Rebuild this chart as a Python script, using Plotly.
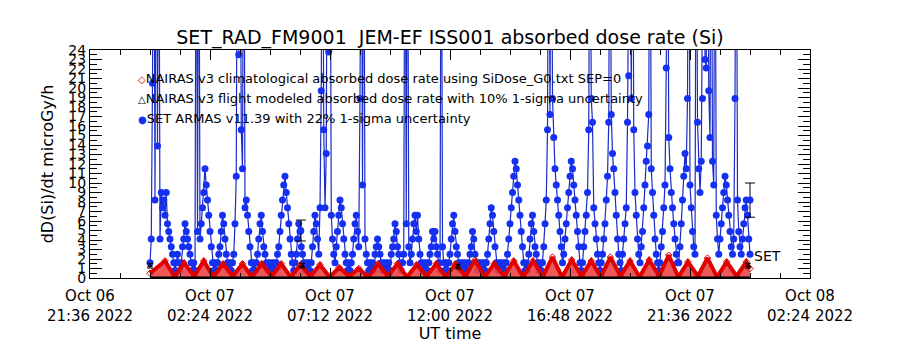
import numpy as np
import pandas as pd
import plotly.graph_objects as go

# ---------------- data ----------------
# SET ARMAS dose rate (microGy/h), regular cadence over Oct 07 00:00 -> Oct 08 00:00
set_dose = [
    1.6, 4.1, 20.5, 50.0,
    8.2, 50.0, 13.9, 50.0, 4.1, 9.0, 7.4, 8.2, 6.6, 9.0, 5.7, 4.9, 4.1, 3.3, 2.5, 1.6,
    0.8, 1.6, 2.5, 1.6, 0.8, 1.6, 3.3, 4.1, 5.7, 4.9, 4.1, 3.3, 2.5, 1.6, 0.8,
    1.6, 0.8, 50.0, 4.9, 50.0, 4.1, 5.7, 7.4, 9.0, 11.5, 9.8, 8.2, 6.6, 4.9, 3.3, 1.6,
    0.8, 1.6, 0.8, 1.6, 2.5, 3.3, 4.9, 6.6, 5.7, 4.1, 2.5, 1.6, 0.8, 1.6, 0.8,
    1.6, 2.5, 5.7, 10.7, 50.0, 23.5, 50.0, 15.6, 11.5, 50.0, 7.4, 8.2, 6.6, 4.9, 3.3, 1.6,
    0.8, 1.6, 0.8, 1.6, 2.5, 4.1, 5.7, 6.6, 4.9, 3.3, 2.5, 1.6, 0.8, 1.6, 0.8,
    1.6, 0.8, 1.6, 0.8, 1.6, 2.5, 3.3, 4.9, 6.6, 8.2, 9.8, 10.7, 9.0, 7.4, 5.7, 4.1,
    2.5, 1.6, 0.8, 1.6, 2.5, 4.1, 5.7, 4.9, 3.3, 2.5, 1.6, 0.8, 1.6, 0.8, 1.6,
    0.8, 1.6, 3.3, 4.9, 6.6, 5.7, 4.1, 2.5, 7.4, 19.7, 50.0, 15.6, 7.4, 13.1, 50.0, 23.8,
    50.0, 6.6, 4.1, 2.5, 1.6, 3.3, 4.9, 6.6, 8.2, 7.4, 5.7, 4.1, 2.5, 1.6, 0.8,
    1.6, 0.8, 1.6, 2.5, 4.1, 5.7, 6.6, 4.9, 3.3, 18.9, 50.0, 9.8, 50.0, 4.1, 2.5, 1.6,
    0.8, 1.6, 0.8, 1.6, 0.8, 2.5, 3.3, 4.1, 3.3, 2.5, 1.6, 0.8, 1.6, 0.8, 1.6,
    0.8, 1.6, 0.8, 2.5, 3.3, 4.1, 5.7, 4.9, 3.3, 2.5, 1.6, 0.8, 1.6, 2.5, 50.0, 5.7,
    50.0, 3.3, 1.6, 2.5, 4.1, 5.7, 6.6, 4.9, 6.6, 4.1, 2.5, 1.6, 0.8, 1.6, 0.8,
    1.6, 0.8, 1.6, 2.5, 3.3, 4.9, 4.1, 4.9, 3.3, 2.5, 1.6, 0.8, 50.0, 3.3, 1.6, 0.8,
    1.6, 0.8, 1.6, 2.5, 4.1, 5.7, 6.6, 4.9, 3.3, 2.5, 1.6, 0.8, 1.6, 0.8, 1.6,
    0.8, 1.6, 0.8, 1.6, 2.5, 3.3, 4.9, 4.1, 2.5, 1.6, 0.8, 1.6, 0.8, 1.6, 0.8, 1.6,
    0.8, 1.6, 2.5, 4.1, 5.7, 7.4, 6.6, 4.9, 3.3, 1.6, 0.8, 1.6, 0.8, 1.6, 0.8,
    1.6, 0.8, 1.6, 2.5, 4.1, 5.7, 7.4, 9.0, 10.7, 12.3, 11.5, 9.8, 8.2, 6.6, 4.9, 3.3,
    1.6, 0.8, 1.6, 0.8, 2.5, 4.1, 5.7, 6.6, 4.9, 3.3, 2.5, 1.6, 0.8, 1.6, 0.8,
    1.6, 3.3, 5.7, 8.2, 15.6, 50.0, 17.2, 50.0, 18.9, 14.8, 11.5, 9.8, 8.2, 6.6, 4.9, 3.3,
    1.6, 2.5, 4.1, 5.7, 7.4, 9.0, 10.7, 12.3, 11.5, 9.8, 8.2, 6.6, 4.9, 3.3, 1.6,
    0.8, 1.6, 3.3, 4.9, 6.6, 9.0, 15.6, 50.0, 18.9, 16.4, 7.4, 5.7, 4.1, 2.5, 1.6, 0.8,
    1.6, 2.5, 4.1, 5.7, 8.2, 10.7, 16.4, 50.0, 17.2, 13.1, 11.5, 9.0, 6.6, 4.1, 2.5,
    1.6, 0.8, 2.5, 4.1, 5.7, 7.4, 16.4, 21.3, 50.0, 18.9, 50.0, 15.6, 9.0, 6.6, 4.1, 2.5,
    1.6, 3.3, 4.9, 7.4, 9.8, 12.3, 13.9, 17.2, 50.0, 11.5, 9.0, 6.6, 4.1, 2.5, 1.6,
    0.8, 1.6, 3.3, 4.9, 7.4, 9.8, 22.1, 50.0, 14.8, 11.5, 9.0, 7.4, 5.7, 4.1, 2.5, 1.6,
    1.6, 3.3, 5.7, 8.2, 10.7, 13.1, 11.5, 18.9, 50.0, 9.8, 7.4, 4.9, 3.3, 2.5, 50.0,
    16.4, 11.5, 9.0, 12.3, 18.9, 50.0, 23.0, 22.1, 50.0, 19.7, 14.8, 50.0, 12.3, 9.8, 50.0, 6.6,
    4.1, 2.5, 4.1, 5.7, 7.4, 9.0, 10.7, 9.8, 8.2, 6.6, 4.9, 3.3, 2.5, 4.1, 18.9,
    50.0, 8.2, 4.9, 3.3, 2.5, 4.1, 5.7, 7.4, 8.2, 6.6, 4.1, 2.5,
]

# NAIRAS v3 climatological dose rate: turning points (minutes after Oct 07 00:00)
nairas_clim_min = [0, 36, 59, 82, 106, 129, 152, 175, 199, 222, 245, 268, 292, 315, 338,
                   361, 385, 408, 431, 454, 478, 501, 524, 547, 571, 594, 617, 640, 664,
                   687, 710, 733, 757, 780, 803, 826, 850, 873, 896, 919, 943, 966, 989,
                   1012, 1036, 1059, 1082, 1105, 1129, 1152, 1175, 1198, 1222, 1245, 1268,
                   1291, 1315, 1338, 1361, 1384, 1408, 1431, 1440]
nairas_clim_dose = [0.5, 1.8, 0.15, 1.6, 0.2, 1.8, 0.1, 1.5, 0.2, 1.5, 0.1, 1.5, 0.2, 1.5, 0.1,
                    1.4, 0.2, 1.4, 0.1, 1.1, 0.2, 1.0, 0.1, 1.5, 0.2, 1.5, 0.1, 1.4, 0.2,
                    1.5, 0.1, 1.5, 0.2, 1.9, 0.1, 1.5, 0.2, 1.8, 0.1, 1.8, 0.2, 2.2, 0.1,
                    1.9, 0.2, 1.8, 0.1, 2.2, 0.2, 1.8, 0.1, 1.9, 0.2, 2.4, 0.1, 1.7, 0.2,
                    2.1, 0.1, 1.7, 0.2, 1.7, 1.0]

# NAIRAS v3 flight-modeled dose rate
nairas_flight_min = [0, 1440]
nairas_flight_dose = [0.0, 0.0]
nairas_pts_min = [0, 365, 739, 1435]
nairas_pts_dose = [1.3, 1.3, 1.2, 1.3]
nairas_pts_err = [0.25, 0.25, 0.25, 0.25]

# SET mean values with 22% 1-sigma uncertainty
set_err_min = [362, 1440]
set_err_dose = [5.0, 8.2]
set_err_sig = [1.1, 1.8]

# axis ticks
x_tickvals = ["2022-10-06 21:36", "2022-10-07 02:24", "2022-10-07 07:12", "2022-10-07 12:00",
              "2022-10-07 16:48", "2022-10-07 21:36", "2022-10-08 02:24"]
x_ticktext = ["Oct 06<br>21:36 2022", "Oct 07<br>02:24 2022", "Oct 07<br>07:12 2022",
              "Oct 07<br>12:00 2022", "Oct 07<br>16:48 2022", "Oct 07<br>21:36 2022",
              "Oct 08<br>02:24 2022"]

title = "SET_RAD_FM9001  JEM-EF ISS001 absorbed dose rate (Si)"
legend_lines = [
    ("◇", "#e00000", "NAIRAS v3 climatological absorbed dose rate using SiDose_G0.txt SEP=0"),
    ("△", "#000000", "NAIRAS v3 flight modeled absorbed dose rate with 10% 1-sigma uncertainty"),
    ("●", "#1530f0", "SET ARMAS v11.39 with 22% 1-sigma uncertainty"),
]

# ---------------- figure ----------------
base = pd.Timestamp("2022-10-07 00:00")
def to_time(mins):
    return base + pd.to_timedelta(np.asarray(mins, dtype=float), unit="min")

set_times = to_time(np.linspace(0, 1440, len(set_dose)))

FONT = "DejaVu Sans"
BLUE = "#1530f0"

fig = go.Figure()
fig.add_trace(go.Scatter(
    x=set_times, y=set_dose, mode="lines+markers",
    line=dict(color="#1a2bc8", width=1.2),
    marker=dict(color=BLUE, size=7, symbol="circle"),
    showlegend=False, cliponaxis=True))
fig.add_trace(go.Scatter(
    x=to_time(nairas_clim_min), y=nairas_clim_dose, mode="lines+markers",
    line=dict(color="#e00000", width=4),
    marker=dict(color="#e00000", size=5, symbol="diamond-open"),
    fill="tozeroy", fillcolor="rgba(235,70,70,0.9)",
    showlegend=False))
fig.add_trace(go.Scatter(
    x=to_time(nairas_flight_min), y=nairas_flight_dose, mode="lines",
    line=dict(color="black", width=3), showlegend=False, cliponaxis=False))
fig.add_trace(go.Scatter(
    x=to_time(nairas_pts_min), y=nairas_pts_dose, mode="markers",
    marker=dict(color="black", size=4, symbol="triangle-up-open"),
    error_y=dict(type="data", array=nairas_pts_err, color="black", thickness=1, width=3),
    showlegend=False))
fig.add_trace(go.Scatter(
    x=to_time(set_err_min), y=set_err_dose, mode="markers",
    marker=dict(color=BLUE, size=7),
    error_y=dict(type="data", array=set_err_sig, color="black", thickness=1, width=5),
    showlegend=False))

ann = []
for k, (sym, col, txt) in enumerate(legend_lines):
    ann.append(dict(
        xref="paper", yref="paper", x=(136 - 90) / 720, y=(278 - (79 + 19.5 * k)) / 228,
        xanchor="left", yanchor="middle", showarrow=False,
        text=f'<span style="color:{col};font-size:10px">{sym}</span>{txt}',
        font=dict(family=FONT, size=13, color="black")))
ann.append(dict(
    xref="x", yref="y", x=base + pd.Timedelta(minutes=1445), y=2.3,
    xanchor="left", yanchor="middle", showarrow=False, text="SET",
    font=dict(family=FONT, size=14, color="black")))
fig.update_layout(annotations=ann)

fig.update_layout(
    width=900, height=350,
    margin=dict(l=90, r=90, t=50, b=72),
    paper_bgcolor="white", plot_bgcolor="white",
    font=dict(family=FONT, color="black"),
    title=dict(text=title, x=0.5, xanchor="center", y=1 - 37 / 350, yanchor="middle",
               font=dict(family=FONT, size=19, color="black")),
)
fig.update_xaxes(
    type="date", range=["2022-10-06 21:36", "2022-10-08 02:24"],
    tickmode="array", tickvals=x_tickvals, ticktext=x_ticktext,
    ticks="inside", ticklen=10, tickcolor="black", tickwidth=1,
    showline=True, linecolor="black", linewidth=1, mirror="allticks",
    showgrid=False, zeroline=False, ticklabelstandoff=4,
    tickfont=dict(family=FONT, size=15, color="black"),
    minor=dict(ticks="inside", ticklen=5, tickcolor="black",
               dtick=72 * 60 * 1000, tick0="2022-10-06 21:36", showgrid=False),
    title=dict(text="UT time", font=dict(family=FONT, size=16, color="black"), standoff=3),
)
fig.update_yaxes(
    range=[0, 24], tickmode="linear", tick0=0, dtick=1,
    ticks="inside", ticklen=12, tickcolor="black", tickwidth=1,
    showline=True, linecolor="black", linewidth=1, mirror="allticks",
    showgrid=False, zeroline=False,
    tickfont=dict(family=FONT, size=14, color="black"),
    minor=dict(ticks="inside", ticklen=7, tickcolor="black", dtick=0.5, showgrid=False),
    title=dict(text="dD(Si)/dt microGy/h", font=dict(family=FONT, size=16, color="black"),
               standoff=10),
)

fig.write_html("out.html")
